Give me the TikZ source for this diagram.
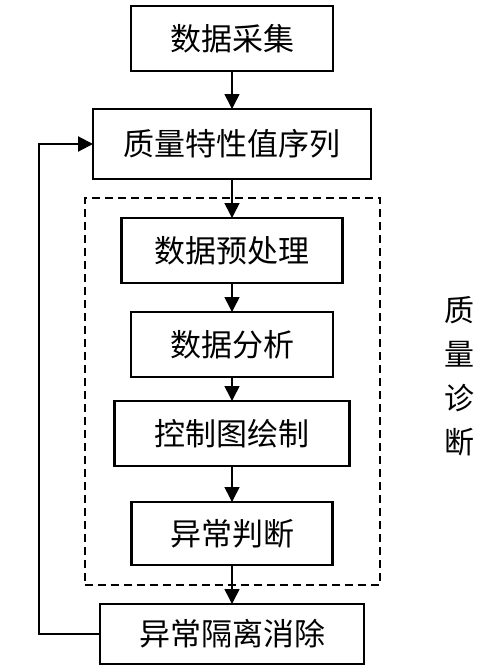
\documentclass[tikz,border=0pt]{standalone}
\usepackage{fontspec}
\setmainfont{Noto Sans CJK SC}
\usetikzlibrary{arrows.meta, positioning, fit}

\begin{document}
\begin{tikzpicture}[x=1pt, y=1pt,
node distance = 38pt,
   box/.style = {draw, line width=2.6pt, minimum height=65pt, inner sep=0pt, outer sep=0pt,
                 font=\fontsize{31pt}{37pt}\selectfont, align=center},
            > = {Triangle[length=15pt, width=15pt]},
         link/.style = {->, line width=1.6pt},
         ]
\useasboundingbox (0,0) rectangle (500,-667);
\node (n1)  [box, minimum width=202pt] at (232,-38.5) {数据采集};
\node (n2)  [box, minimum width=278pt, minimum height=70pt, below=of n1] {质量特性值序列};
\node (n3)  [box, minimum width=221pt, below=39pt of n2] {数据预处理};
\node (n4)  [box, minimum width=202pt, below=29pt of n3] {数据分析};
\node (n5)  [box, minimum width=235pt, below=24pt of n4] {控制图绘制};
\node (n6)  [box, minimum width=201pt, minimum height=63pt, below=36pt of n5] {异常判断};
\node (n7)  [box, minimum width=264pt, minimum height=60pt, below=39pt of n6] {异常隔离消除};
\node (diag) [draw, line width=2pt, dash pattern=on 8pt off 5pt,
              inner xsep=30pt, inner ysep=20pt, fit=(n3)(n5)(n6)] {};
\node (lbl) [right=64pt of diag.east, yshift=15pt, inner sep=0pt, align=center,
             font=\fontsize{30pt}{44pt}\selectfont] {质\\量\\诊\\断};
\coordinate[left=61pt of n7.west] (c1);

%
\draw[link] (n1) -- (n2);
\draw[link] (n2) -- (n3);
\draw[link] (n3) -- (n4);
\draw[link] (n4) -- (n5);
\draw[link] (n5) -- (n6);
\draw[link] (n6) -- (n7);
\draw[link, line width=2.2pt] (n7) -- (c1) |- (n2);
    \end{tikzpicture}
\end{document}
